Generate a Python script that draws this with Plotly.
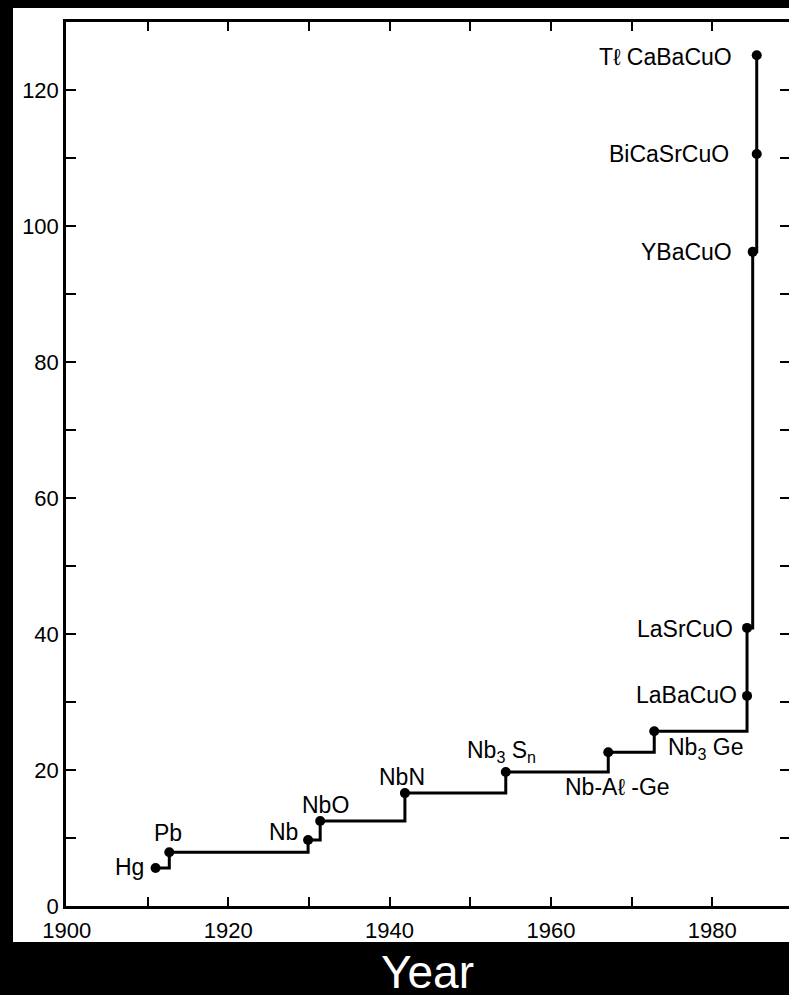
import plotly.graph_objects as go

# Record superconducting transition temperature by year of discovery
materials = ["Hg", "Pb", "Nb", "NbO", "NbN", "Nb3Sn", "Nb-Al-Ge", "Nb3Ge",
             "LaBaCuO", "LaSrCuO", "YBaCuO", "BiCaSrCuO", "TlCaBaCuO"]
years = [1911.0, 1912.7, 1929.9, 1931.4, 1941.9, 1954.4, 1967.1, 1972.8,
         1984.3, 1984.3, 1985.0, 1985.5, 1985.5]
tc_kelvin = [5.6, 7.9, 9.7, 12.5, 16.6, 19.7, 22.6, 25.7,
             30.9, 40.9, 96.2, 110.6, 125.1]
label_text = ["Hg", "Pb", "Nb", "NbO", "NbN", "Nb<sub>3</sub> S<sub>n</sub>",
              "Nb-A\u2113 -Ge", "Nb<sub>3</sub> Ge", "LaBaCuO", "LaSrCuO",
              "YBaCuO", "BiCaSrCuO", "T\u2113 CaBaCuO"]

x_ticks = [1900, 1910, 1920, 1930, 1940, 1950, 1960, 1970, 1980]
x_tick_text = ["1900", "", "1920", "", "1940", "", "1960", "", "1980"]
y_ticks = [0, 10, 20, 30, 40, 50, 60, 70, 80, 90, 100, 110, 120]
y_tick_text = ["0", "", "20", "", "40", "", "60", "", "80", "", "100", "", "120"]

FONT = "Liberation Sans, Arial, Helvetica, sans-serif"
W, H = 789, 995
L, R, T, B = 66, 0, 22, 89
plot_w = W - L - R
plot_h = H - T - B

# label placement: (xanchor, yanchor, xshift, yshift) in pixels
placement = {
    "Hg": ("right", "middle", -10, 1),
    "Pb": ("center", "middle", -1, 19),
    "Nb": ("right", "middle", -8, 8),
    "NbO": ("center", "middle", 5, 16),
    "NbN": ("center", "middle", -3, 16),
    "Nb3Sn": ("center", "middle", -4, 21),
    "Nb-Al-Ge": ("center", "middle", 9, -35),
    "Nb3Ge": ("center", "middle", 51, -17),
    "LaBaCuO": ("right", "middle", -8, 1),
    "LaSrCuO": ("right", "middle", -12, -1),
    "YBaCuO": ("right", "middle", -19, 0),
    "BiCaSrCuO": ("right", "middle", -26, 0),
    "TlCaBaCuO": ("right", "middle", -23, -2),
}

fig = go.Figure()
fig.add_trace(go.Scatter(
    x=years, y=tc_kelvin, mode="lines+markers",
    line=dict(shape="hv", color="black", width=3),
    marker=dict(size=10, color="black"),
    hoverinfo="skip", showlegend=False,
))

annotations = []
for name, txt, xv, yv in zip(materials, label_text, years, tc_kelvin):
    xa, ya, dx, dy = placement[name]
    annotations.append(dict(
        x=xv, y=yv, xref="x", yref="y", text=txt, showarrow=False,
        xanchor=xa, yanchor=ya, xshift=dx, yshift=dy,
        font=dict(family=FONT, size=23, color="black"),
    ))

# axis title below the white panel
annotations.append(dict(
    x=0.5, xref="paper", y=(H - B - 972) / plot_h, yref="paper",
    text="Year", showarrow=False, xanchor="center", yanchor="middle",
    font=dict(family=FONT, size=46, color="white"),
))

shapes = [
    # white panel behind axes and labels
    dict(type="rect", xref="paper", yref="paper", layer="below",
         x0=(13 - L) / plot_w, x1=1.02,
         y0=(H - B - 942) / plot_h, y1=(H - B - 8) / plot_h,
         fillcolor="white", line=dict(width=0)),
]
# inward ticks along the right edge
for v in y_ticks[1:]:
    shapes.append(dict(type="line", xref="paper", yref="y",
                       x0=1 - 9 / plot_w, x1=1, y0=v, y1=v,
                       line=dict(color="black", width=2)))

fig.update_layout(
    width=W, height=H,
    margin=dict(l=L, r=R, t=T, b=B, pad=0),
    paper_bgcolor="black", plot_bgcolor="white",
    font=dict(family=FONT, color="black"),
    annotations=annotations, shapes=shapes,
    xaxis=dict(range=[1899.9, 1989.5], tickvals=x_ticks, ticktext=x_tick_text,
               ticks="inside", ticklen=9, tickwidth=2, tickcolor="black",
               showline=True, linecolor="black", linewidth=2.5, mirror="ticks",
               showgrid=False, zeroline=False, ticklabelstandoff=3,
               tickfont=dict(family=FONT, size=22, color="black")),
    yaxis=dict(range=[0, 130], tickvals=y_ticks, ticktext=y_tick_text,
               ticks="inside", ticklen=10, tickwidth=2, tickcolor="black",
               showline=True, linecolor="black", linewidth=2.5, mirror=False,
               showgrid=False, zeroline=False,
               tickfont=dict(family=FONT, size=22, color="black")),
)

fig.write_html("out.html")
